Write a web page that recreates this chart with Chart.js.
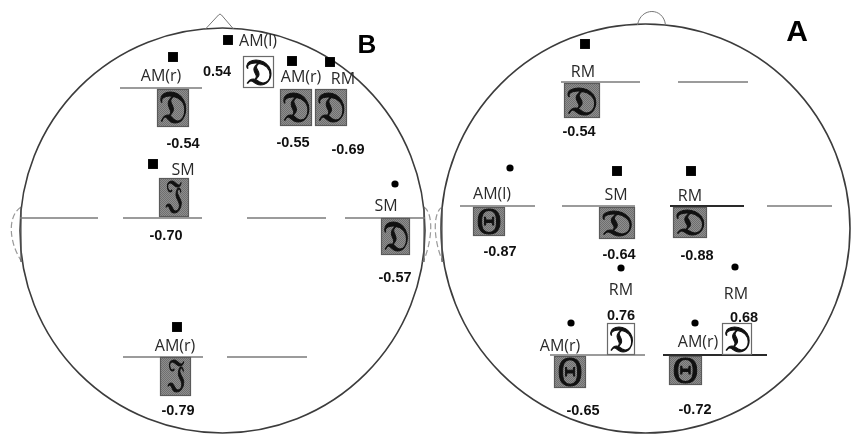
<!DOCTYPE html>
<html>
<head>
<meta charset="utf-8">
<script src="https://cdn.jsdelivr.net/npm/chart.js@4.4.1/dist/chart.umd.min.js"></script>
<style>
  html, body { margin: 0; padding: 0; background: #fff; }
  #wrap { width: 852px; height: 436px; position: relative; }
</style>
</head>
<body>
<div id="wrap"><canvas id="chart"></canvas></div>
<script>
// correlation cells: head B (left) first, then head A (right)
const cellLabels  = ['AM(r)', 'AM(l)', 'AM(r)', 'RM', 'SM', 'SM', 'AM(r)',
                     'RM', 'AM(l)', 'SM', 'RM', 'RM', 'RM', 'AM(r)', 'AM(r)'];
const cellValues  = [-0.54, 0.54, -0.55, -0.69, -0.70, -0.57, -0.79,
                     -0.54, -0.87, -0.64, -0.88, 0.76, 0.68, -0.65, -0.72];
const cellMarkers = ['rect', 'rect', 'rect', 'rect', 'rect', 'circle', 'rect',
                     'rect', 'circle', 'rect', 'rect', 'circle', 'circle', 'circle', 'circle'];
const cellBands   = ['alpha', 'alpha', 'alpha', 'alpha', 'beta', 'alpha', 'beta',
                     'alpha', 'theta', 'alpha', 'alpha', 'alpha', 'alpha', 'theta', 'theta'];
const headNames   = ['B', 'A'];

// layout in chart units (0..852 x 0..436): box, marker, label, value
const cellLayout = [
  { box: [157, 89, 189, 127], m: [173, 57],  l: [161, 76],  v: [183, 144] },
  { box: [243, 56, 274, 88],  m: [228, 40],  l: [258, 41],  v: [217, 72] },
  { box: [280, 89, 312, 126], m: [292, 61],  l: [301, 77],  v: [293, 143] },
  { box: [315, 89, 347, 126], m: [330, 62],  l: [343, 79],  v: [348, 150] },
  { box: [159, 178, 189, 217],m: [153, 164], l: [183, 170], v: [166, 236] },
  { box: [381, 218, 410, 255],m: [395, 184], l: [386, 206], v: [395, 278] },
  { box: [160, 357, 191, 396],m: [177, 327], l: [175, 346], v: [178, 411] },
  { box: [564, 83, 600, 118], m: [585, 44],  l: [583, 72],  v: [579, 132] },
  { box: [473, 207, 505, 236],m: [510, 168], l: [492, 194], v: [500, 252] },
  { box: [599, 207, 635, 239],m: [617, 171], l: [616, 195], v: [619, 255] },
  { box: [673, 207, 707, 238],m: [691, 171], l: [690, 196], v: [697, 256] },
  { box: [607, 323, 635, 355],m: [621, 268], l: [621, 290], v: [621, 316] },
  { box: [722, 323, 752, 355],m: [735, 267], l: [736, 294], v: [744, 318] },
  { box: [554, 356, 586, 388],m: [571, 323], l: [560, 346], v: [583, 411] },
  { box: [669, 356, 702, 385],m: [695, 323], l: [698, 342], v: [695, 410] }
];

// electrode row baselines: [y, x1, x2, dark]
const baseLines = [
  [88, 120, 202, 0], [218, 20, 98, 0], [218, 123, 202, 0], [218, 247, 326, 0],
  [218, 345, 425, 0], [357, 123, 203, 0], [357, 227, 307, 0],
  [82, 561, 640, 0], [82, 678, 748, 0], [206, 460, 535, 0], [206, 562, 635, 0],
  [206, 670, 744, 1], [206, 767, 832, 0], [355, 550, 645, 0], [355, 663, 767, 1]
];

const headLayout = [
  { cx: 222.5, cy: 230.5, r: 202.5, letter: [367, 46], size: 26 },
  { cx: 645.5, cy: 228.5, r: 204.5, letter: [797, 33], size: 30 }
];

const bandGlyphs = { alpha: '\u{1D507}', beta: '\u{1D50D}', theta: '\u0398' };

const lineDatasets = baseLines.map(r => ({
  label: 'baseline',
  data: [{ x: r[1], y: r[0] }, { x: r[2], y: r[0] }],
  showLine: true,
  borderColor: r[3] ? '#2a2a2a' : '#7a7a7a',
  borderWidth: r[3] ? 1.8 : 1.6,
  pointRadius: 0
}));

const markerData = cellLayout.map(c => ({ x: c.m[0], y: c.m[1] }));

let greyPattern = null;
function getPattern(ctx) {
  if (greyPattern) return greyPattern;
  const pc = document.createElement('canvas');
  pc.width = 2; pc.height = 2;
  const p = pc.getContext('2d');
  p.fillStyle = '#8e8e8e'; p.fillRect(0, 0, 2, 2);
  p.fillStyle = '#6f6f6f'; p.fillRect(0, 0, 1, 1); p.fillRect(1, 1, 1, 1);
  greyPattern = ctx.createPattern(pc, 'repeat');
  return greyPattern;
}

// stretch a glyph so it fills most of its box, like the scanned symbols
function drawGlyph(ctx, ch, font, x1, y1, x2, y2, fw, fh) {
  ctx.save();
  ctx.font = font;
  ctx.textAlign = 'left';
  ctx.textBaseline = 'alphabetic';
  const m = ctx.measureText(ch);
  const gw = m.actualBoundingBoxLeft + m.actualBoundingBoxRight;
  const gh = m.actualBoundingBoxAscent + m.actualBoundingBoxDescent;
  const sx = (x2 - x1) * fw / gw, sy = (y2 - y1) * fh / gh;
  ctx.translate((x1 + x2) / 2, (y1 + y2) / 2);
  ctx.scale(sx, sy);
  const ox = -gw / 2 + m.actualBoundingBoxLeft;
  const oy = gh / 2 - m.actualBoundingBoxDescent;
  ctx.fillStyle = '#111';
  ctx.strokeStyle = '#111';
  ctx.lineWidth = 1.1 / Math.max(sx, sy);
  ctx.fillText(ch, ox, oy);
  ctx.strokeText(ch, ox, oy);
  ctx.restore();
}

const headOutline = {
  id: 'headOutline',
  beforeDatasetsDraw(chart) {
    const { ctx, scales: { x, y } } = chart;
    const px = v => x.getPixelForValue(v), py = v => y.getPixelForValue(v);
    ctx.save();
    headLayout.forEach((h, i) => {
      const cx = px(h.cx), cy = py(h.cy);
      const rx = Math.abs(px(h.cx + h.r) - cx), ry = Math.abs(py(h.cy + h.r) - cy);
      ctx.strokeStyle = '#3c3c3c';
      ctx.lineWidth = 1.6;
      ctx.setLineDash([]);
      ctx.beginPath();
      ctx.ellipse(cx, cy, rx, ry, 0, 0, Math.PI * 2);
      ctx.stroke();
      // nose
      const top = cy - ry;
      ctx.lineWidth = 1;
      ctx.strokeStyle = '#777';
      ctx.beginPath();
      if (i === 0) {
        ctx.moveTo(cx - 17, top + 1);
        ctx.lineTo(cx - 4, top - 13);
        ctx.quadraticCurveTo(cx - 2.5, top - 15, cx - 1, top - 13);
        ctx.lineTo(cx + 11, top + 1);
      } else {
        ctx.moveTo(cx - 8, top + 1);
        ctx.bezierCurveTo(cx - 5, top - 17, cx + 18, top - 17, cx + 20, top + 1);
      }
      ctx.stroke();
      // ears
      ctx.strokeStyle = '#999';
      ctx.lineWidth = 1.2;
      ctx.setLineDash([6, 3]);
      const ey = py(207), ey2 = py(262);
      const lx = cx - rx, rxp = cx + rx;
      ctx.beginPath();
      if (i === 0) {
        ctx.moveTo(lx + 1, ey);
        ctx.bezierCurveTo(lx - 14, ey + 10, lx - 10, ey + 38, lx + 2, ey2);
        ctx.moveTo(rxp - 1, ey);
        ctx.bezierCurveTo(rxp + 10, ey + 8, rxp + 6, ey + 38, rxp - 2, ey2);
      } else {
        ctx.moveTo(lx + 1, ey);
        ctx.bezierCurveTo(lx - 10, ey + 8, lx - 6, ey + 38, lx + 2, ey2);
      }
      ctx.stroke();
      ctx.setLineDash([]);
      ctx.strokeStyle = '#555';
      ctx.beginPath();
      ctx.moveTo(lx + 1, ey); ctx.lineTo(lx + 1, ey2);
      if (i === 0) { ctx.moveTo(rxp - 1, ey); ctx.lineTo(rxp - 1, ey2); }
      ctx.stroke();
    });
    ctx.restore();
  }
};

const cellBoxes = {
  id: 'cellBoxes',
  afterDatasetsDraw(chart) {
    const { ctx, scales: { x, y } } = chart;
    const px = v => x.getPixelForValue(v), py = v => y.getPixelForValue(v);
    ctx.save();
    cellLayout.forEach((c, i) => {
      const x1 = px(c.box[0]), y1 = py(c.box[1]), x2 = px(c.box[2]), y2 = py(c.box[3]);
      const neg = cellValues[i] < 0;
      ctx.fillStyle = neg ? getPattern(ctx) : '#fff';
      ctx.fillRect(x1, y1, x2 - x1, y2 - y1);
      ctx.strokeStyle = neg ? '#5a5a5a' : '#6a6a6a';
      ctx.lineWidth = 1.2;
      ctx.strokeRect(x1 + 0.5, y1 + 0.5, x2 - x1 - 1, y2 - y1 - 1);
      // band glyph
      const band = cellBands[i];
      if (band === 'theta') {
        drawGlyph(ctx, bandGlyphs.theta, '40px "Liberation Serif", serif', x1, y1, x2, y2, 0.72, 0.86);
      } else {
        drawGlyph(ctx, bandGlyphs[band], '40px "DejaVu Serif", "DejaVu Sans", serif', x1, y1, x2, y2,
                  band === 'beta' ? 0.55 : 0.82, 0.8);
      }
      // label
      ctx.textAlign = 'center';
      ctx.textBaseline = 'middle';
      ctx.fillStyle = '#2a2a2a';
      ctx.font = '16px "Open Sans", "Liberation Sans", sans-serif';
      ctx.fillText(cellLabels[i], px(c.l[0]), py(c.l[1]));
      // value
      ctx.fillStyle = '#111';
      ctx.font = 'bold 14.5px "Liberation Sans", Arial, sans-serif';
      ctx.fillText(cellValues[i].toFixed(2), px(c.v[0]), py(c.v[1]));
    });
    headLayout.forEach((h, i) => {
      ctx.fillStyle = '#000';
      ctx.font = 'bold ' + h.size + 'px "Liberation Sans", Arial, sans-serif';
      ctx.fillText(headNames[i], px(h.letter[0]), py(h.letter[1]));
    });
    ctx.restore();
  }
};

new Chart(document.getElementById('chart'), {
  type: 'scatter',
  data: {
    datasets: lineDatasets.concat([
      {
        label: 'markers',
        data: markerData,
        pointStyle: cellMarkers,
        pointRadius: cellMarkers.map(m => m === 'rect' ? 7 : 3.6),
        backgroundColor: '#000',
        borderColor: '#000',
        borderWidth: 0
      }
    ])
  },
  options: {
    responsive: true,
    maintainAspectRatio: false,
    animation: false,
    layout: { padding: 0, autoPadding: false },
    scales: {
      x: { type: 'linear', min: 0, max: 852, display: false },
      y: { type: 'linear', min: 0, max: 436, reverse: true, display: false }
    },
    plugins: {
      legend: { display: false },
      tooltip: { enabled: false }
    },
    events: []
  },
  plugins: [headOutline, cellBoxes]
});
</script>
</body>
</html>
